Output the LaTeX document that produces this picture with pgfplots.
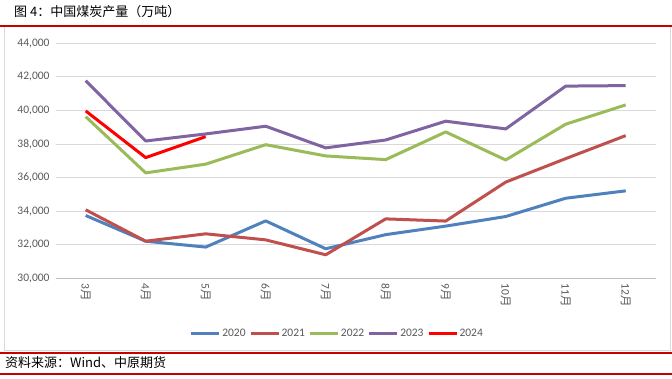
\documentclass[border=0pt]{standalone}
\usepackage{pgfplots}
\pgfplotsset{compat=1.18}
\usepackage{fontspec}
\setmainfont{Carlito}
\newfontfamily\cjk{Noto Sans CJK SC}
\definecolor{cA}{HTML}{4F81BD}
\definecolor{cB}{HTML}{C0504D}
\definecolor{cC}{HTML}{9BBB59}
\definecolor{cD}{HTML}{8064A2}
\definecolor{cE}{HTML}{FF0000}
\definecolor{gridgray}{HTML}{D9D9D9}
\definecolor{axgray}{HTML}{BFBFBF}
\definecolor{tickgray}{HTML}{595959}
\definecolor{redline}{HTML}{C80000}
\begin{document}
\begin{tikzpicture}[x=1pt,y=1pt]
\path[fill=white,use as bounding box] (0,0) rectangle (672,378);
\draw[gridgray, line width=1pt] (4,28) rectangle (670,351);
\draw[redline, line width=2pt] (0,352.3) -- (672,352.3);
\draw[redline, line width=2pt] (0,25) -- (672,25);
\draw[redline, line width=2pt] (0,4) -- (672,4);
\node[anchor=west, inner sep=0pt, font=\cjk\fontsize{13}{14}\selectfont] at (14,366) {图 4：中国煤炭产量（万吨）};
\node[anchor=west, inner sep=0pt, font=\cjk\fontsize{13}{14}\selectfont] at (5,15) {资料来源：Wind、中原期货};
\begin{axis}[
  at={(55.7pt,99.7pt)}, anchor=south west,
  scale only axis, width=600pt, height=235pt,
  xmin=-0.5, xmax=9.5, ymin=30000, ymax=44000,
  ytick={30000,32000,...,44000},
  scaled y ticks=false,
  xtick={0,...,9},
  xticklabels={3{\cjk 月},4{\cjk 月},5{\cjk 月},6{\cjk 月},7{\cjk 月},8{\cjk 月},9{\cjk 月},10{\cjk 月},11{\cjk 月},12{\cjk 月}},
  minor xtick={-0.5,0.5,...,9.5},
  tick align=outside,
  major tick length=0pt,
  minor tick length=5pt,
  minor tick style={axgray, line width=0.8pt},
  axis x line*=bottom, axis y line*=left,
  x axis line style={axgray, line width=0.8pt, -},
  y axis line style={draw=none},
  ymajorgrids, grid style={gridgray, line width=0.8pt},
  ytick style={draw=none}, xtick style={draw=none},
  /pgf/number format/.cd, fixed, 1000 sep={,}, assume math mode=true, /pgfplots/.cd,
  yticklabel style={font=\fontsize{11.5}{12}\selectfont, text=tickgray, anchor=east, inner sep=0pt, xshift=-6pt},
  xticklabel style={font=\fontsize{11.5}{12}\selectfont, text=tickgray, yshift=-5pt, rotate=-90, anchor=west, inner sep=0pt},
  legend style={at={(0.469,-0.233)}, anchor=center, draw=none, fill=none, legend columns=5,
    font=\fontsize{11.5}{12}\selectfont, text=tickgray, nodes={inner sep=1.5pt},
    /tikz/every even column/.append style={column sep=2pt}},
  legend image code/.code={\draw[#1] (0pt,0pt) -- (28pt,0pt);},
  every axis plot/.append style={line width=3pt, line join=round, mark=none},
]
\addplot[cA] coordinates {(0,33740) (1,32210) (2,31860) (3,33420) (4,31760) (5,32600) (6,33110) (7,33680) (8,34770) (9,35210)};
\addlegendentry{2020}
\addplot[cB] coordinates {(0,34080) (1,32210) (2,32650) (3,32290) (4,31400) (5,33540) (6,33410) (7,35730) (8,37130) (9,38500)};
\addlegendentry{2021}
\addplot[cC] coordinates {(0,39630) (1,36280) (2,36800) (3,37960) (4,37290) (5,37070) (6,38720) (7,37050) (8,39180) (9,40330)};
\addlegendentry{2022}
\addplot[cD] coordinates {(0,41770) (1,38180) (2,38600) (3,39060) (4,37770) (5,38240) (6,39360) (7,38900) (8,41450) (9,41480)};
\addlegendentry{2023}
\addplot[cE] coordinates {(0,39970) (1,37190) (2,38440)};
\addlegendentry{2024}
\end{axis}
\end{tikzpicture}
\end{document}
